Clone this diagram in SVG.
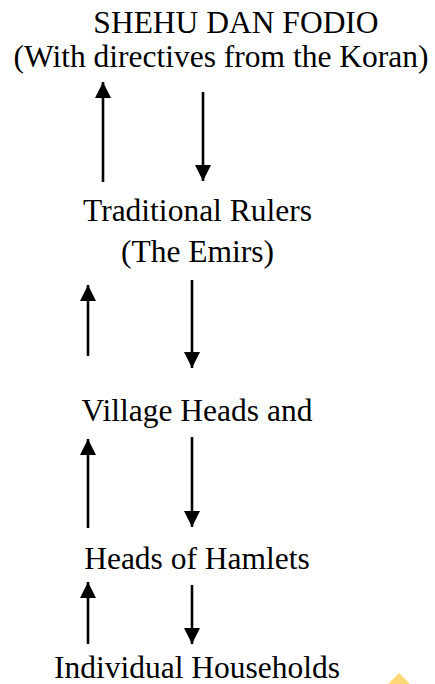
<svg xmlns="http://www.w3.org/2000/svg" width="435" height="684" viewBox="0 0 435 684">
  <style>
    .t { font-family: "Liberation Serif", "Times New Roman", serif; font-size: 31.5px; fill: #000; }
    .c { text-anchor: middle; }
    .shaft { stroke: #000; stroke-width: 2.6; fill: none; }
  </style>
  <defs>
    <marker id="head" viewBox="0 0 16 16" refX="16" refY="8" markerWidth="16" markerHeight="16" markerUnits="userSpaceOnUse" orient="auto">
      <path d="M0,0 L16,8 L0,16 Z" fill="#000"/>
    </marker>
  </defs>
  <rect width="435" height="684" fill="#fff"/>

  <g id="shehu">
    <text class="t c" x="236" y="33">SHEHU DAN FODIO</text>
    <text class="t c" x="221" y="67">(With directives from the Koran)</text>
  </g>
  <g id="emirs">
    <text class="t c" x="197.5" y="221">Traditional Rulers</text>
    <text class="t c" x="197.5" y="262">(The Emirs)</text>
  </g>
  <g id="village">
    <text class="t c" x="197" y="421">Village Heads and</text>
  </g>
  <g id="hamlets">
    <text class="t c" x="197" y="569">Heads of Hamlets</text>
  </g>
  <g id="households">
    <text class="t c" x="197" y="678">Individual Households</text>
  </g>

  <g id="connectors">
    <line class="shaft" x1="103" y1="182" x2="103" y2="82" marker-end="url(#head)"/>
    <line class="shaft" x1="203" y1="92" x2="203" y2="181" marker-end="url(#head)"/>
    <line class="shaft" x1="88" y1="356" x2="88" y2="285" marker-end="url(#head)"/>
    <line class="shaft" x1="192" y1="280" x2="192" y2="368" marker-end="url(#head)"/>
    <line class="shaft" x1="88" y1="528" x2="88" y2="439" marker-end="url(#head)"/>
    <line class="shaft" x1="192" y1="437" x2="192" y2="527" marker-end="url(#head)"/>
    <line class="shaft" x1="88" y1="644" x2="88" y2="582" marker-end="url(#head)"/>
    <line class="shaft" x1="192" y1="585" x2="192" y2="644" marker-end="url(#head)"/>
  </g>

  <path d="M388,684 L399,673 L410,684 Z" fill="#fcd774"/>
</svg>
